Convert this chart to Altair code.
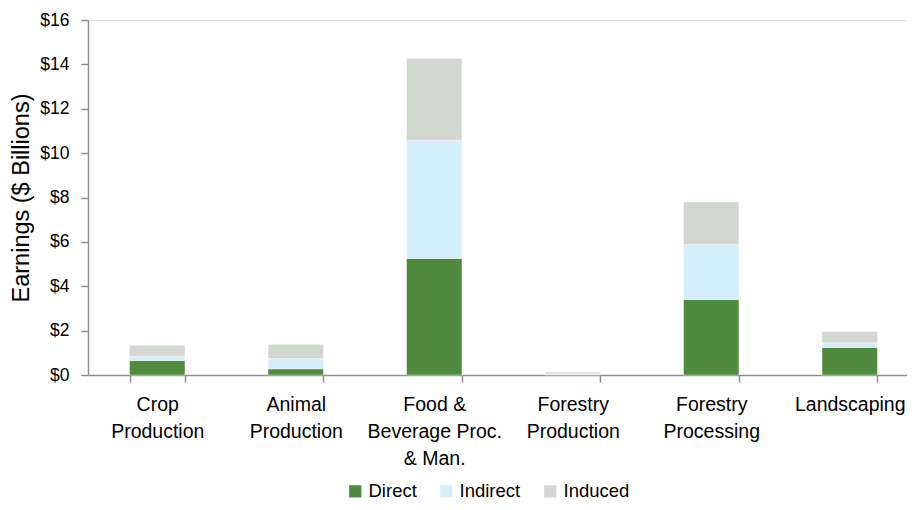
import altair as alt
import pandas as pd

categories = [
    "Crop Production",
    "Animal Production",
    "Food & Beverage Proc. & Man.",
    "Forestry Production",
    "Forestry Processing",
    "Landscaping",
]
label_lines = [
    "Crop|Production",
    "Animal|Production",
    "Food &|Beverage Proc.|& Man.",
    "Forestry|Production",
    "Forestry|Processing",
    "Landscaping",
]
direct = [0.65, 0.28, 5.25, 0.02, 3.40, 1.24]
indirect = [0.18, 0.46, 5.32, 0.03, 2.48, 0.21]
induced = [0.51, 0.64, 3.70, 0.08, 1.92, 0.51]

series = ["Direct", "Indirect", "Induced"]
colors = ["#4F8A3E", "#D5EEFB", "#D3D7D1"]

rows = []
for i, c in enumerate(categories):
    for k, (s, vals) in enumerate(zip(series, [direct, indirect, induced])):
        rows.append({"cat": label_lines[i], "series": s, "order": k, "value": vals[i]})
df = pd.DataFrame(rows)

FONT = "Liberation Sans"
AX = "#8E8E8E"

chart = (
    alt.Chart(df)
    .mark_bar(stroke="#ffffff", strokeOpacity=0.5, strokeWidth=0.8)
    .encode(
        x=alt.X(
            "cat:N",
            sort=label_lines,
            scale=alt.Scale(range=[0, 831], paddingInner=0.6, paddingOuter=0.3),
            axis=alt.Axis(
                title=None,
                labelAngle=0,
                labelExpr="split(datum.label, '|')",
                labelFontSize=19.5,
                labelLineHeight=27,
                labelPadding=13,
                labelColor="#000000",
                labelFont=FONT,
                tickBand="extent",
                tickSize=7,
                tickColor=AX,
                domainColor=AX,
                tickWidth=1.5,
                domainWidth=1.5,
                grid=False,
            ),
        ),
        y=alt.Y(
            "value:Q",
            stack="zero",
            scale=alt.Scale(domain=[0, 16], nice=False),
            axis=alt.Axis(
                title="Earnings ($ Billions)",
                values=[0, 2, 4, 6, 8, 10, 12, 14, 16],
                format="$.0f",
                labelFontSize=17.5,
                labelFont=FONT,
                labelColor="#000000",
                labelPadding=12,
                tickSize=7,
                tickColor=AX,
                domainColor=AX,
                tickWidth=1.5,
                domainWidth=1.5,
                titleFontSize=23.5,
                titleFont=FONT,
                titleFontWeight="normal",
                titleColor="#000000",
                titlePadding=6,
                grid=False,
            ),
        ),
        color=alt.Color(
            "series:N",
            sort=series,
            scale=alt.Scale(domain=series, range=colors),
            legend=alt.Legend(
                title=None,
                orient="none",
                direction="horizontal",
                legendX=258,
                legendY=462,
                symbolType="square",
                symbolSize=150,
                symbolStrokeWidth=0,
                labelFontSize=18.5,
                labelFont=FONT,
                labelColor="#000000",
                labelOffset=4,
                columnPadding=20,
            ),
        ),
        order=alt.Order("order:Q", sort="ascending"),
    )
    .properties(
        width=819,
        height=355,
        autosize=alt.AutoSizeParams(type="none"),
        padding={"left": 80, "top": 12, "right": 0, "bottom": 127},
    )
    .configure_view(stroke=None)
    .configure(font=FONT)
)

chart.save("out.html", embed_options={"renderer": "svg", "actions": False})
